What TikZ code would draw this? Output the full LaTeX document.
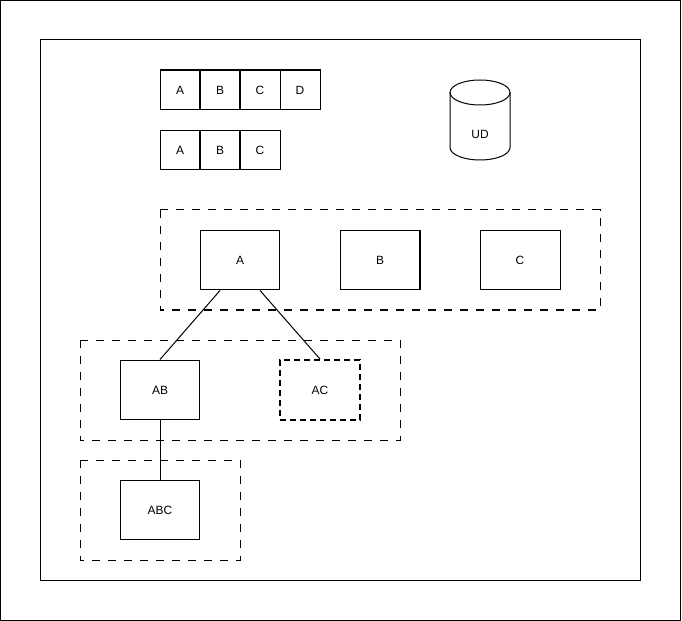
\documentclass[tikz,border=0pt]{standalone}
\usepackage{fontspec}
\setmainfont{Liberation Sans}
\usepackage{tikz}
\usetikzlibrary{calc}

\begin{document}
\begin{tikzpicture}[x=0.02cm,y=-0.02cm,line width=0.57pt,
  font=\fontsize{6.8}{8}\selectfont,
  cell/.style={draw,minimum width=0.8cm,minimum height=0.8cm,inner sep=0pt},
  tbox/.style={draw,minimum width=1.6cm,minimum height=1.2cm,inner sep=0pt},
  groupbox/.style={draw,dash pattern=on 0.16cm off 0.16cm},
  missing/.style={tbox,line width=1.13pt,dash pattern=on 0.12cm off 0.08cm}]
\useasboundingbox (0,0) rectangle (682,621);
\draw (0.5,0.5) rectangle (680.5,620.5);
\draw (40,40) rectangle (640,580);
% item rows
\node[cell] (ra) at (180,90) {A};
\node[cell] (rb) at (220,90) {B};
\node[cell] (rc) at (260,90) {C};
\node[cell] (rd) at (300,90) {D};
\node[cell] (sa) at (180,150) {A};
\node[cell] (sb) at (220,150) {B};
\node[cell] (sc) at (260,150) {C};
% database
\draw (450,92.5) -- (450,147.5) arc[start angle=180,end angle=0,x radius=30,y radius=12.5] -- (510,92.5);
\draw (480,92.5) ellipse[x radius=30,y radius=12.5];
\node (ud) at (480,134) {UD};
% levels
\draw[groupbox] (160,210) rectangle (600,310);
\draw[groupbox] (80,340) rectangle (400,440);
\draw[groupbox] (80,460) rectangle (240,560);
\node[tbox] (a) at (240,260) {A};
\node[tbox] (b) at (380,260) {B};
\node[tbox] (c) at (520,260) {C};
\node[tbox] (ab) at (160,390) {AB};
\node[missing] (ac) at (320,390) {AC};
\node[tbox] (abc) at (160,510) {ABC};
\draw ($(a.south)+(-20,0)$) -- (ab.north);
\draw ($(a.south)+(20,0)$) -- (ac.north);
\draw (ab.south) -- (abc.north);
\end{tikzpicture}
\end{document}
